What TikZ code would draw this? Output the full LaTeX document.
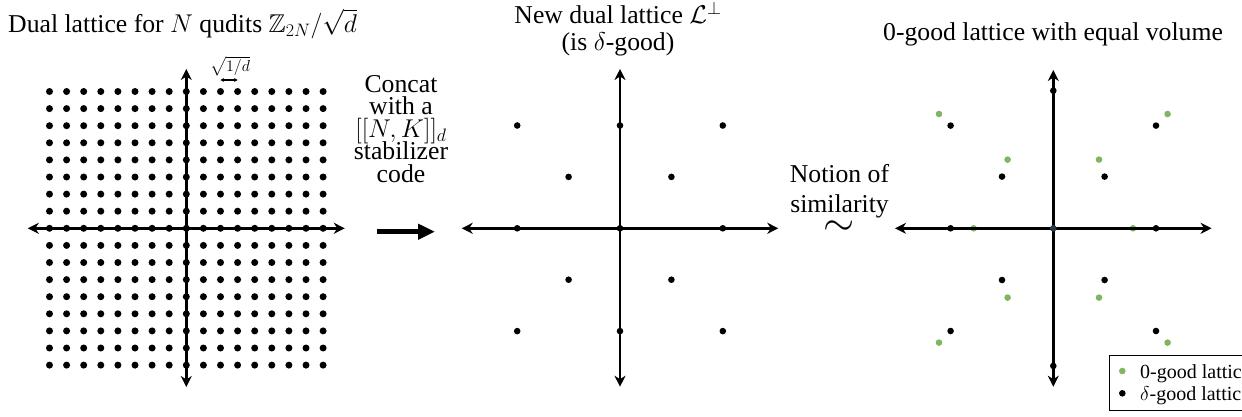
\RequirePackage{fix-cm}
\documentclass[tikz,border=0pt]{standalone}
\usepackage{fontspec}
\setmainfont{Liberation Serif}
\usepackage{amssymb}
\usetikzlibrary{arrows.meta,positioning,calc}
\definecolor{leafdot}{RGB}{128,181,98}
\definecolor{slate}{RGB}{45,55,72}
\newcommand\capfont[1]{\fontsize{25.7}{#1}\selectfont\lineskiplimit=-100pt\relax}
\tikzset{
  >={Stealth[length=11pt,width=11pt,inset=3.5pt]},
  axis/.style={<->,line width=2.7pt},
  push/.style={-{Triangle[length=17pt,width=15pt]},line width=5pt},
  caption/.style={inner sep=0pt,align=center,font={\capfont{#1}}},
  caption/.default=27,
  legtext/.style={inner sep=0pt,anchor=base west,font=\fontsize{20}{22}\selectfont},
}
\begin{document}
\begin{tikzpicture}[x=1pt,y=-1pt]
  \clip (0,0) rectangle (1242,416);
  % left: fine lattice
  \coordinate (L) at (186.3,228.3);
  \foreach \i in {-8,...,8}
    \foreach \j in {-8,...,8}
      \fill ($(L)+(\i*17.1,\j*17.1)$) circle (3.5pt);
  \draw[axis] ($(L)+(-158.5,0)$) -- ($(L)+(158.5,0)$);
  \draw[axis] ($(L)+(0,-159.3)$) -- ($(L)+(0,158.7)$);
  \node[caption,anchor=base west] (ltitle) at (8,32.8) {Dual lattice for $N$ qudits $\mathbb{Z}_{2N}/\sqrt{d}$};
  \node[inner sep=0pt,font=\fontsize{16}{16}\selectfont] (step) at (230,66) {$\sqrt{1/d}$};
  \coordinate (sa) at ($(L)+(2*17.1,-148.3)$);
  \coordinate (sb) at ($(L)+(3*17.1,-148.3)$);
  \draw[{Stealth[length=3.5pt,width=4pt]}-{Stealth[length=3.5pt,width=4pt]},line width=1.1pt] (sa) -- (sb);

  % step 1
  \node[caption=22.5,anchor=north] (concat) at (401,75) {Concat\\with a\\$[[N,K]]_d$\\stabilizer\\code};
  \coordinate (pa) at (376.7,231.7);
  \coordinate (pb) at (435,231.7);
  \draw[push] (pa) -- (pb);

  % middle: new dual lattice
  \coordinate (M) at (620,228.3);
  \foreach \i in {-2,...,2}
    \foreach \j in {-2,...,2}{
      \pgfmathtruncatemacro{\parity}{mod(\i+\j+4,2)}
      \ifnum\parity=0 \fill ($(M)+(\i*51.4,\j*51.4)$) circle (3.3pt); \fi
    }
  \draw[axis] ($(M)+(-158.3,0)$) -- ($(M)+(158.3,0)$);
  \draw[axis] ($(M)+(0,-159.3)$) -- ($(M)+(0,158.4)$);
  \node[caption,anchor=north] (mtitle) at (618,1.5) {New dual lattice $\mathcal{L}^{\perp}$\\(is $\delta$-good)};

  % step 2
  \node[caption=30,anchor=north] (notion) at (839.5,164.1) {Notion of\\similarity};
  \node[inner sep=0pt,anchor=base,font=\fontsize{40}{40}\selectfont] (sim) at (839.5,235.5) {$\sim$};

  % right: delta-good vs 0-good
  \coordinate (R) at (1053.3,228.3);
  \foreach \x/\y in {-102.7/0,102.7/0,-51.3/-51.7,51.3/-51.7,-51.3/51.7,51.3/51.7,
      -102.7/-102.7,102.7/-102.7,-102.7/102.7,102.7/102.7,0/-137.6,0/137.6}
    \fill ($(R)+(\x,\y)$) circle (3.3pt);
  \foreach \x/\y in {-79.7/0,79.7/0,-45.7/-68.7,45.7/-68.7,-45.7/69.3,45.7/69.3,
      -114.3/-114.3,114.3/-114.3,-114.3/114.3,114.3/114.3}
    \fill[leafdot] ($(R)+(\x,\y)$) circle (3.3pt);
  \draw[axis] ($(R)+(-158.3,0)$) -- ($(R)+(158.3,0)$);
  \draw[axis] ($(R)+(0,-158.3)$) -- ($(R)+(0,158.4)$);
  \fill[slate] (R) circle (3.3pt);
  \node[caption,anchor=base] (rtitle) at (1053,40.7) {0-good lattice with equal volume};

  % legend
  \node[draw,line width=1.3pt,fill=white,anchor=north west,minimum width=160pt,minimum height=55pt] (legend) at (1108.7,355) {};
  \fill[leafdot] (1122.3,371) circle (3.3pt);
  \fill (1122.3,393.3) circle (3.3pt);
  \node[legtext] (lzero) at (1140,378.3) {0-good lattice};
  \node[legtext] (ldelta) at (1140,400.7) {$\delta$-good lattice};
\end{tikzpicture}
\end{document}
